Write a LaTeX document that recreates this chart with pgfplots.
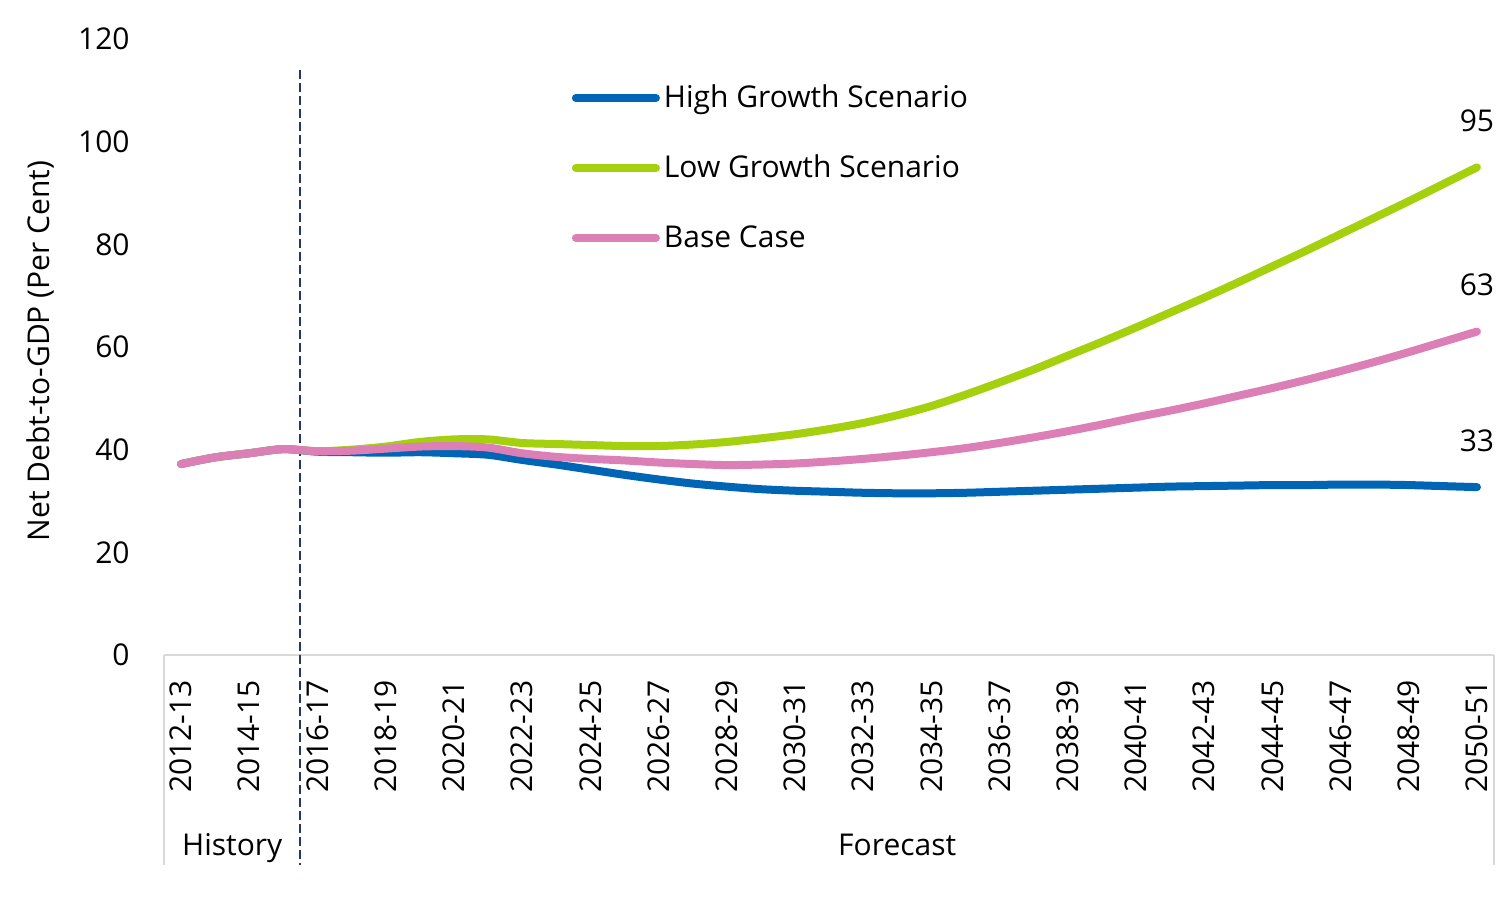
\documentclass[border=0pt]{standalone}
\usepackage{fontspec}
\setmainfont{Open Sans}
\usepackage{pgfplots}
\pgfplotsset{compat=1.18}
\definecolor{hg}{RGB}{0,101,180}
\definecolor{lg}{RGB}{165,208,14}
\definecolor{bc}{RGB}{220,127,183}
\definecolor{dk}{RGB}{31,56,100}
\definecolor{gl}{RGB}{217,217,217}
\begin{document}
\fontsize{15pt}{18pt}\selectfont
\begin{tikzpicture}[font=\fontsize{15pt}{18pt}\selectfont]
\useasboundingbox (0,0) rectangle (750pt,460.5pt);
\begin{axis}[
  at={(82pt,133pt)}, anchor=south west,
  width=665pt, height=308pt, scale only axis,
  xmin=-0.5, xmax=38.5, ymin=0, ymax=120,
  xtick={0,2,...,38},
  xticklabels={2012-13,2014-15,2016-17,2018-19,2020-21,2022-23,2024-25,2026-27,2028-29,2030-31,2032-33,2034-35,2036-37,2038-39,2040-41,2042-43,2044-45,2046-47,2048-49,2050-51},
  ytick={0,20,...,120},
  major tick length=0pt,
  axis line style={draw=none},
  xticklabel style={rotate=90, anchor=east, inner sep=0pt},
  xticklabel shift=12.5pt,
  yticklabel style={anchor=east, inner sep=0pt},
  yticklabel shift=17pt,
  /pgf/number format/assume math mode=true,
  clip=false,
  ylabel={Net Debt-to-GDP (Per Cent)},
  ylabel style={at={(rel axis cs:0,0.5)}, anchor=center, inner sep=0pt, yshift=62pt, xshift=-2pt},
  legend style={draw=none, fill=none, at={(rel axis cs:0.3067,0.9253)}, anchor=north west,
    inner sep=0pt, outer sep=0pt, row sep=20pt,
    nodes={inner sep=0pt, text height=11pt, text depth=4pt},
    /tikz/every odd column/.append style={column sep=2pt}},
  legend cell align=left,
  legend image code/.code={\draw[#1, line width=4pt, line cap=round] (0pt,1pt) -- (40pt,1pt);},
]
\draw[gl, line width=1pt] (rel axis cs:0,0) -- (rel axis cs:1,0);
\draw[gl, line width=1pt] (rel axis cs:0,0) -- ++(0pt,-105pt);
\draw[gl, line width=1pt] (rel axis cs:1,0) -- ++(0pt,-105pt);
\draw[dk, line width=1pt, dash pattern=on 4.5pt off 2pt] (axis cs:3.5,114) -- (axis cs:3.5,0) -- ++(0pt,-105pt);

\addplot[hg, line width=4pt, line cap=round, smooth] coordinates {
(0,37.2) (1,38.5) (2,39.3) (3,40.1) (4,39.6) (5,39.5) (6,39.4) (7,39.5) (8,39.3) (9,39.0)
(10,38.0) (11,37.1) (12,36.1) (13,35.1) (14,34.2) (15,33.4) (16,32.8) (17,32.3) (18,32.0) (19,31.8)
(20,31.6) (21,31.5) (22,31.5) (23,31.6) (24,31.8) (25,32.0) (26,32.2) (27,32.4) (28,32.6) (29,32.8)
(30,32.9) (31,33.0) (32,33.1) (33,33.1) (34,33.2) (35,33.2) (36,33.1) (37,32.9) (38,32.7)};
\addlegendentry{High Growth Scenario}
\addplot[lg, line width=4pt, line cap=round, smooth] coordinates {
(0,37.2) (1,38.5) (2,39.3) (3,40.1) (4,39.7) (5,40.0) (6,40.6) (7,41.5) (8,42.0) (9,42.0)
(10,41.3) (11,41.1) (12,40.9) (13,40.7) (14,40.7) (15,41.0) (16,41.5) (17,42.2) (18,43.0) (19,44.0)
(20,45.2) (21,46.7) (22,48.5) (23,50.7) (24,53.1) (25,55.6) (26,58.3) (27,61.0) (28,63.8) (29,66.7)
(30,69.6) (31,72.6) (32,75.7) (33,78.8) (34,82.0) (35,85.2) (36,88.4) (37,91.7) (38,95.0)};
\addlegendentry{Low Growth Scenario}
\addplot[bc, line width=4pt, line cap=round, smooth] coordinates {
(0,37.2) (1,38.5) (2,39.3) (3,40.1) (4,39.7) (5,39.8) (6,40.2) (7,40.6) (8,40.7) (9,40.4)
(10,39.3) (11,38.6) (12,38.2) (13,37.9) (14,37.5) (15,37.2) (16,37.0) (17,37.1) (18,37.3) (19,37.7)
(20,38.2) (21,38.8) (22,39.5) (23,40.3) (24,41.3) (25,42.4) (26,43.6) (27,44.9) (28,46.3) (29,47.6)
(30,49.0) (31,50.5) (32,52.0) (33,53.6) (34,55.3) (35,57.1) (36,59.0) (37,61.0) (38,63.0)};
\addlegendentry{Base Case}

\node[anchor=base, inner sep=0pt, yshift=18pt] at (axis cs:38,95) {95};
\node[anchor=base, inner sep=0pt, yshift=18pt] at (axis cs:38,63) {63};
\node[anchor=base, inner sep=0pt, yshift=18pt] at (axis cs:38,32.7) {33};
\node[anchor=base, inner sep=0pt, yshift=-100pt] at (axis cs:1.5,0) {History};
\node[anchor=base, inner sep=0pt, yshift=-100pt] at (axis cs:21,0) {Forecast};
\end{axis}
\end{tikzpicture}
\end{document}
